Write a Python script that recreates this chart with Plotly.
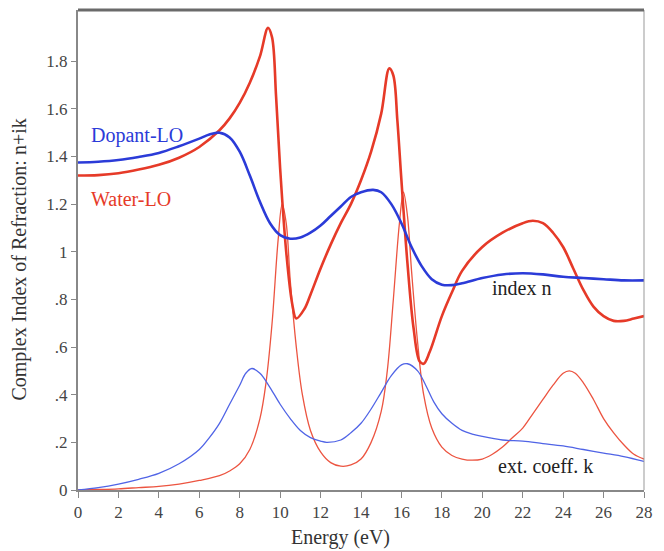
import plotly.graph_objects as go

# Water-LO refractive index n
water_n_x = [0, 1, 2, 3, 4, 5, 6, 7, 7.5, 8, 8.5, 9, 9.4, 9.6, 9.8, 10.0, 10.3, 10.6, 10.8, 11.2, 11.5, 12, 12.5, 13, 13.5, 14, 14.5, 15, 15.4, 15.6, 15.8, 16.0, 16.3, 16.6, 16.9, 17.1, 17.4, 18, 18.5, 19, 20, 21, 22, 22.5, 23, 23.5, 24, 24.5, 25, 25.5, 26, 26.5, 27, 27.5, 28]
water_n_y = [1.32, 1.322, 1.33, 1.345, 1.365, 1.395, 1.44, 1.51, 1.56, 1.625, 1.71, 1.82, 1.94, 1.90, 1.65, 1.35, 1.0, 0.78, 0.72, 0.76, 0.82, 0.93, 1.03, 1.12, 1.20, 1.30, 1.42, 1.58, 1.77, 1.74, 1.55, 1.30, 0.95, 0.68, 0.54, 0.53, 0.58, 0.73, 0.83, 0.92, 1.02, 1.08, 1.12, 1.13, 1.12, 1.08, 1.02, 0.93, 0.84, 0.77, 0.73, 0.71, 0.71, 0.72, 0.73]

# Dopant-LO refractive index n
dopant_n_x = [0, 1, 2, 3, 4, 5, 6, 6.5, 7, 7.5, 8, 8.5, 9, 9.5, 10, 10.5, 11, 11.5, 12, 12.5, 13, 13.5, 14, 14.6, 15, 15.5, 16, 16.5, 17, 17.5, 18, 18.5, 19, 20, 21, 22, 23, 24, 25, 26, 27, 28]
dopant_n_y = [1.375, 1.378, 1.385, 1.398, 1.415, 1.443, 1.475, 1.492, 1.50, 1.48, 1.42, 1.32, 1.21, 1.12, 1.07, 1.055, 1.06, 1.08, 1.11, 1.15, 1.19, 1.23, 1.25, 1.26, 1.25, 1.20, 1.12, 1.02, 0.94, 0.885, 0.862, 0.86, 0.868, 0.89, 0.905, 0.91, 0.905, 0.895, 0.89, 0.885, 0.88, 0.88]

# Water-LO extinction coefficient k
water_k_x = [0, 1, 2, 3, 4, 5, 6, 7, 7.5, 8, 8.5, 9, 9.3, 9.6, 9.9, 10.1, 10.3, 10.5, 10.8, 11.1, 11.5, 12, 12.5, 13, 13.5, 14, 14.5, 15, 15.3, 15.6, 15.9, 16.1, 16.3, 16.5, 16.8, 17.1, 17.5, 18, 18.5, 19, 19.5, 20, 20.5, 21, 21.5, 22, 22.5, 23, 23.5, 24, 24.3, 24.6, 25, 25.5, 26, 26.5, 27, 27.5, 28]
water_k_y = [0, 0.002, 0.005, 0.01, 0.015, 0.025, 0.04, 0.06, 0.08, 0.11, 0.17, 0.30, 0.45, 0.70, 1.05, 1.20, 1.12, 0.88, 0.60, 0.40, 0.25, 0.16, 0.115, 0.10, 0.105, 0.13, 0.20, 0.33, 0.50, 0.80, 1.12, 1.25, 1.15, 0.92, 0.62, 0.40, 0.26, 0.18, 0.145, 0.13, 0.125, 0.13, 0.15, 0.18, 0.22, 0.26, 0.32, 0.38, 0.44, 0.49, 0.50, 0.49, 0.45, 0.38, 0.30, 0.24, 0.19, 0.15, 0.13]

# Dopant-LO extinction coefficient k
dopant_k_x = [0, 1, 2, 3, 4, 5, 6, 6.5, 7, 7.5, 8, 8.3, 8.6, 9, 9.5, 10, 10.5, 11, 11.5, 12, 12.3, 13, 13.5, 14, 14.5, 15, 15.5, 16, 16.3, 16.8, 17.2, 17.6, 18, 18.5, 19, 19.5, 20, 21, 22, 23, 24, 25, 26, 27, 28]
dopant_k_y = [0, 0.01, 0.025, 0.045, 0.07, 0.11, 0.17, 0.22, 0.28, 0.36, 0.44, 0.49, 0.51, 0.49, 0.43, 0.36, 0.30, 0.25, 0.22, 0.205, 0.20, 0.21, 0.24, 0.28, 0.34, 0.41, 0.48, 0.525, 0.53, 0.50, 0.44, 0.37, 0.32, 0.28, 0.25, 0.235, 0.225, 0.21, 0.205, 0.195, 0.185, 0.17, 0.155, 0.14, 0.12]

x_ticks = list(range(0, 29, 2))
y_tickvals = [0, 0.2, 0.4, 0.6, 0.8, 1.0, 1.2, 1.4, 1.6, 1.8]
y_ticktext = ["0", ".2", ".4", ".6", ".8", "1", "1.2", "1.4", "1.6", "1.8"]

BLUE = "#2b3bd8"
RED = "#e63a28"
BLUE_THIN = "#5064e6"
RED_THIN = "#ec5440"
FONT = "Liberation Serif"

fig = go.Figure()
fig.add_trace(go.Scatter(x=water_k_x, y=water_k_y, mode="lines", line=dict(color=RED_THIN, width=1.3, shape="spline", smoothing=1.0), showlegend=False))
fig.add_trace(go.Scatter(x=dopant_k_x, y=dopant_k_y, mode="lines", line=dict(color=BLUE_THIN, width=1.3, shape="spline", smoothing=1.0), showlegend=False))
fig.add_trace(go.Scatter(x=water_n_x, y=water_n_y, mode="lines", line=dict(color=RED, width=2.6, shape="spline", smoothing=1.0), showlegend=False))
fig.add_trace(go.Scatter(x=dopant_n_x, y=dopant_n_y, mode="lines", line=dict(color=BLUE, width=2.6, shape="spline", smoothing=1.0), showlegend=False))

fig.add_annotation(x=0.55, y=1.49, text="Dopant-LO", showarrow=False, xanchor="left", font=dict(family=FONT, size=20, color=BLUE))
fig.add_annotation(x=0.55, y=1.22, text="Water-LO", showarrow=False, xanchor="left", font=dict(family=FONT, size=20, color=RED))
fig.add_annotation(x=20.4, y=0.85, text="index n", showarrow=False, xanchor="left", font=dict(family=FONT, size=20, color="#222"))
fig.add_annotation(x=20.7, y=0.10, text="ext. coeff. k", showarrow=False, xanchor="left", font=dict(family=FONT, size=20, color="#222"))

# axis titles
fig.add_annotation(xref="paper", yref="paper", x=0.464, y=0, yshift=-47, text="Energy (eV)", showarrow=False,
                   xanchor="center", yanchor="middle", font=dict(family=FONT, size=20, color="#333"))
fig.add_annotation(xref="paper", yref="paper", x=0, xshift=-58, y=0.48, text="Complex Index of Refraction: n+ik", showarrow=False,
                   textangle=-90, xanchor="center", yanchor="middle", font=dict(family=FONT, size=20, color="#333"))

# right and top frame lines
fig.add_shape(type="line", xref="paper", yref="paper", x0=1, x1=1, y0=0, y1=1, line=dict(color="#999", width=1))
fig.add_shape(type="line", xref="paper", yref="paper", x0=0, x1=1, y0=1, y1=1, line=dict(color="#6a6a6a", width=3))

fig.update_layout(
    width=664, height=551,
    margin=dict(l=78, r=20, t=10, b=61),
    paper_bgcolor="white", plot_bgcolor="white",
    font=dict(family=FONT, color="#444"),
    xaxis=dict(range=[0, 28], tickvals=x_ticks, ticks="outside", ticklen=6, tickcolor="#888",
               showline=True, linecolor="#888", linewidth=2, showgrid=False, zeroline=False,
               tickfont=dict(family=FONT, size=17, color="#444")),
    yaxis=dict(range=[0, 2.015], tickvals=y_tickvals, ticktext=y_ticktext, ticks="outside", ticklen=5, tickcolor="#888",
               showline=True, linecolor="#888", linewidth=2, showgrid=False, zeroline=False,
               tickfont=dict(family=FONT, size=17, color="#444")),
)

fig.write_html("out.html")
